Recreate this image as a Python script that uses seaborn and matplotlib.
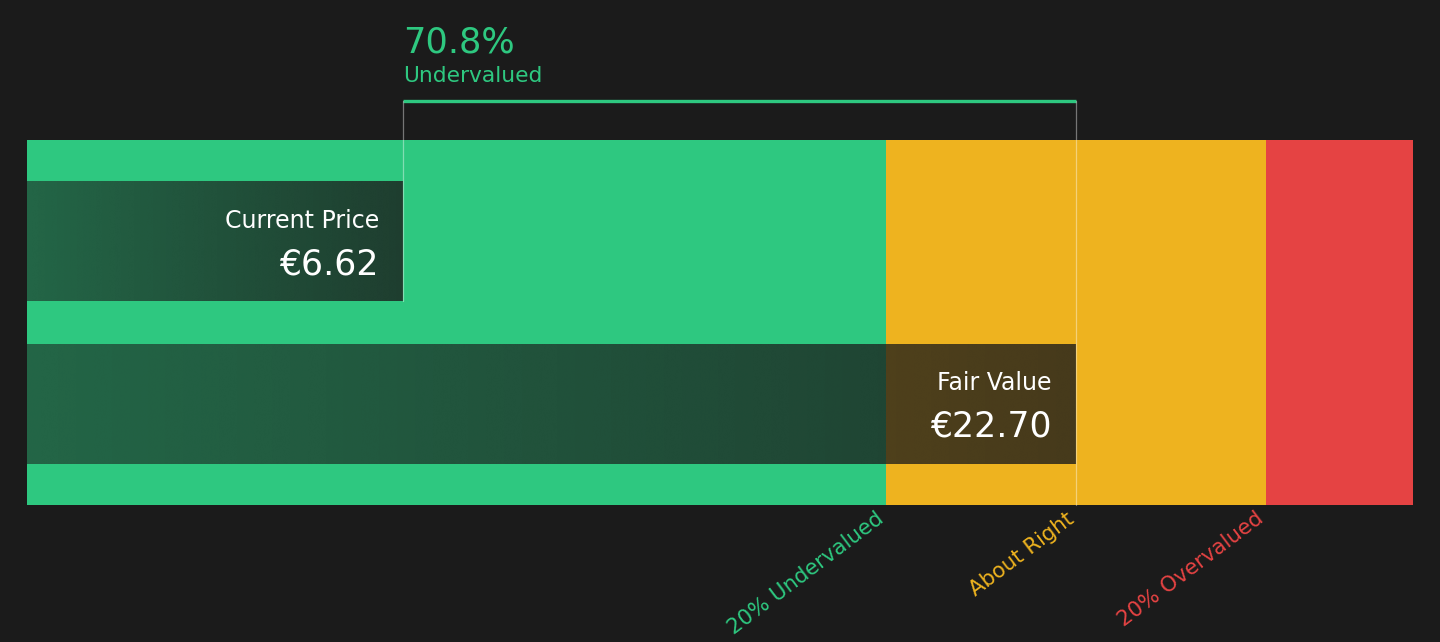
import numpy as np
import matplotlib
matplotlib.use("Agg")
import matplotlib.pyplot as plt
import seaborn as sns
import pandas as pd

# Values
labels = ["Current Price", "Fair Value"]
prices = [6.62, 22.70]
currency = "€"
zone_names = ["20% Undervalued", "About Right", "20% Overvalued"]

BG = "#1b1b1b"
GREEN = "#2ec880"
YELLOW = "#eeb31f"
RED = "#e54343"

sns.set_theme(style="dark")
plt.rcParams["font.family"] = ["DejaVu Sans"]

current, fair = prices
diff_pct = (fair - current) / fair * 100

# x range of the axes (layout)
x_left = -0.104 * fair
x_right = 1.355 * fair

fig = plt.figure(figsize=(14.4, 6.42), dpi=100, facecolor=BG)
ax = fig.add_axes([27 / 1440, 1 - 505 / 642, 1386 / 1440, 365 / 642])
ax.set_facecolor(BG)

# price bars (drawn first so their patches are easy to pick up)
df = pd.DataFrame({"label": labels, "price": prices})
sns.barplot(data=df, x="price", y="label", orient="h", width=0.74, ax=ax)
bars = list(ax.patches)

# valuation zones
ax.axvspan(x_left, fair * 0.8, color=GREEN, lw=0, zorder=0)
ax.axvspan(fair * 0.8, fair * 1.2, color=YELLOW, lw=0, zorder=0)
ax.axvspan(fair * 1.2, x_right, color=RED, lw=0, zorder=0)

grad = np.zeros((1, 256, 4))
grad[..., :3] = np.array([27, 27, 27]) / 255
grad[..., 3] = np.linspace(0.57, 0.8, 256)
for patch, val in zip(bars, prices):
    y0 = patch.get_y()
    h = patch.get_height()
    patch.set_x(x_left)
    patch.set_width(val - x_left)
    patch.set_facecolor("none")
    patch.set_edgecolor("none")
    im = ax.imshow(grad, extent=[x_left, val, y0 + h, y0], aspect="auto",
                   interpolation="bicubic", zorder=3)
    im.set_clip_path(patch)

ax.set_xlim(x_left, x_right)
ax.set_ylim(1.623, -0.623)

# text inside bars
for i, (lab, val) in enumerate(zip(labels, prices)):
    ax.annotate(lab, (val, i), xytext=(-17.3, 9.6), textcoords="offset points",
                ha="right", va="baseline", color="white", fontsize=17, zorder=5)
    ax.annotate(f"{currency}{val:.2f}", (val, i), xytext=(-17.3, -23.8),
                textcoords="offset points", ha="right", va="baseline",
                color="white", fontsize=25, zorder=5)

# bracket on top
tr = ax.get_xaxis_transform()
ax.plot([current, fair], [1.107, 1.107], color=GREEN, lw=2.4, transform=tr,
        clip_on=False, solid_capstyle="butt", zorder=6)
bar_bottom = (505 - 301) / 365
ax.plot([current, current], [bar_bottom, 1.107], color="white", alpha=0.4, lw=0.9,
        transform=tr, clip_on=False, zorder=6)
ax.plot([fair, fair], [0, 1.107], color="white", alpha=0.4, lw=0.9,
        transform=tr, clip_on=False, zorder=6)
ax.text(current, 1.24, f"{diff_pct:.1f}%", transform=tr, color=GREEN,
        fontsize=25.3, ha="left", va="baseline")
ax.text(current, 1.158, "Undervalued", transform=tr, color=GREEN,
        fontsize=15.7, ha="left", va="baseline")

# zone labels below
for name, pos, col in zip(zone_names, [fair * 0.8, fair, fair * 1.2], [GREEN, YELLOW, RED]):
    ax.annotate(name, (pos, 0), xycoords=tr, xytext=(-7.5, -2.5), textcoords="offset points",
                color=col, fontsize=15.3, rotation=37, rotation_mode="anchor",
                ha="right", va="top", annotation_clip=False)

ax.set_xticks([])
ax.set_yticks([])
ax.set_xlabel("")
ax.set_ylabel("")
for s in ax.spines.values():
    s.set_visible(False)

fig.savefig("out.png", dpi=100, facecolor=BG)
